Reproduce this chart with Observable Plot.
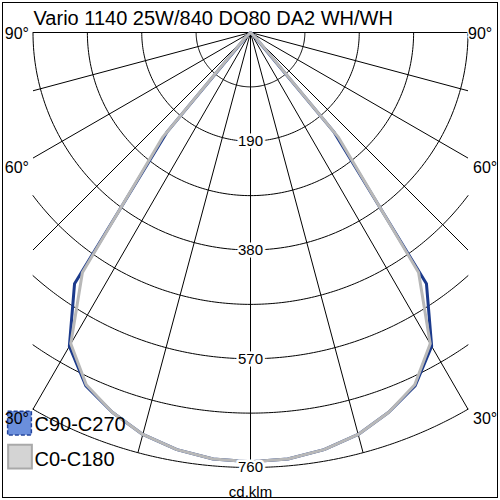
<!DOCTYPE html>
<html>
<head>
<meta charset="utf-8">
<script src="https://cdn.jsdelivr.net/npm/d3@7"></script>
<script src="https://cdn.jsdelivr.net/npm/@observablehq/plot@0.6"></script>
<style>
  html, body { margin: 0; padding: 0; background: #fff; }
  #chart svg { display: block; }
</style>
</head>
<body>
<div id="chart"></div>
<script>
// ---- data (cd/klm) ----
const title = "Vario 1140 25W/840 DO80 DA2 WH/WH";
const unitLabel = "cd.klm";
const gammaAngles = [0, 5, 10, 15, 20, 25, 30, 35, 40, 45, 50, 55, 60, 65, 70, 75, 80, 85, 90];
const seriesC90 = [750, 748, 740, 727, 706, 681, 633, 536, 226, 10, 0, 0, 0, 0, 0, 0, 0, 0, 0];
const seriesC0  = [750, 748, 740, 727, 706, 679, 628, 512, 238, 14, 0, 0, 0, 0, 0, 0, 0, 0, 0];
const legendNames = ["C90-C270", "C0-C180"];
const ringValues = [95, 190, 285, 380, 475, 570, 665, 760];
const ringLabels = [190, 380, 570, 760];
const spokeAngles = [-90, -75, -60, -45, -30, -15, 0, 15, 30, 45, 60, 75, 90];
const angleLabels = [90, 60, 30];

// ---- geometry ----
const rMax = 760;          // outer ring
const halfBox = 380;       // grid clipped at |x| <= 380 cd
const pxPerCd = 435 / 760;
const cx = 250, cy = 32;
const rad = d => d * Math.PI / 180;

function polar(name, values) {
  const pts = [];
  for (let i = gammaAngles.length - 1; i >= 0; i--) {
    const g = rad(gammaAngles[i]);
    pts.push({series: name, x: -values[i] * Math.sin(g), y: values[i] * Math.cos(g)});
  }
  for (let i = 1; i < gammaAngles.length; i++) {
    const g = rad(gammaAngles[i]);
    pts.push({series: name, x: values[i] * Math.sin(g), y: values[i] * Math.cos(g)});
  }
  return pts;
}
const curveC90 = polar(legendNames[0], seriesC90);
const curveC0 = polar(legendNames[1], seriesC0);

const rings = [];
for (const r of ringValues) {
  const gmax = r <= halfBox ? 90 : Math.asin(halfBox / r) * 180 / Math.PI;
  const n = 180;
  for (let j = 0; j <= n; j++) {
    const g = rad(-gmax + 2 * gmax * j / n);
    rings.push({r, x: r * Math.sin(g), y: r * Math.cos(g)});
  }
}
const spokes = spokeAngles.map(a => {
  const s = Math.abs(Math.sin(rad(a)));
  const L = s === 0 ? rMax : Math.min(rMax, halfBox / s);
  return {a, x2: L * Math.sin(rad(a)), y2: L * Math.cos(rad(a))};
});
const angleLabelData = [];
for (const a of angleLabels) {
  const g = rad(a);
  const y = halfBox * Math.cos(g) / Math.sin(g);
  angleLabelData.push({a, side: -1, x: -halfBox, y});
  angleLabelData.push({a, side: 1, x: halfBox, y});
}

const font = "'Liberation Sans', Arial, sans-serif";
const labelStyle = {x: "x", y: "y", text: d => d.a + "°", lineAnchor: "middle", fontSize: 16, fill: "#000"};
const halo = {stroke: "#fff", strokeWidth: 3, paintOrder: "stroke"};

const chart = Plot.plot({
  width: 500,
  height: 500,
  margin: 0,
  style: {background: "#fff", fontFamily: font},
  x: {domain: [-cx / pxPerCd, (500 - cx) / pxPerCd], axis: null},
  y: {domain: [-cy / pxPerCd, (500 - cy) / pxPerCd], range: [0, 500], axis: null},
  marks: [
    Plot.line(rings, {x: "x", y: "y", z: "r", stroke: "#000", strokeWidth: 1}),
    Plot.link(spokes, {x1: 0, y1: 0, x2: "x2", y2: "y2", stroke: "#000", strokeWidth: 1}),
    Plot.line(curveC90, {x: "x", y: "y", stroke: "#1b3a8c", strokeWidth: 3, strokeLinejoin: "round"}),
    Plot.line(curveC0, {x: "x", y: "y", stroke: "#b8b8b8", strokeWidth: 3, strokeLinejoin: "round"}),
    Plot.text(ringLabels, {x: 0, y: d => d, text: d => String(d), fontSize: 15,
      fill: "#000", stroke: "#fff", strokeWidth: 5, paintOrder: "stroke", lineAnchor: "middle"}),
    // legend swatches
    Plot.dot([legendNames[0]], {frameAnchor: "top-left", dx: 19, dy: 422.5, r: 13.4, symbol: "square",
      fill: "#6b8fdc", stroke: "#23449c", strokeWidth: 1.5, strokeDasharray: "4,2"}),
    Plot.dot([legendNames[1]], {frameAnchor: "top-left", dx: 19.5, dy: 456, r: 13.4, symbol: "square",
      fill: "#d4d4d4", stroke: "#a9a9a9", strokeWidth: 2}),
    // angle labels
    Plot.text(angleLabelData.filter(d => d.side < 0 && d.a === 90), {...labelStyle, ...halo, dx: -4, dy: 1, textAnchor: "end"}),
    Plot.text(angleLabelData.filter(d => d.side > 0 && d.a === 90), {...labelStyle, ...halo, dx: 0, dy: 1, textAnchor: "start"}),
    Plot.text(angleLabelData.filter(d => d.side < 0 && d.a === 60), {...labelStyle, ...halo, dx: -4, dy: 10, textAnchor: "end"}),
    Plot.text(angleLabelData.filter(d => d.side > 0 && d.a !== 90), {...labelStyle, ...halo, dx: 5, dy: 10, textAnchor: "start"}),
    Plot.text(angleLabelData.filter(d => d.side < 0 && d.a === 30), {...labelStyle, dx: -4, dy: 10, textAnchor: "end"}),
    // legend texts
    Plot.text([legendNames[0]], {frameAnchor: "top-left", dx: 34, dy: 430, text: d => d,
      textAnchor: "start", lineAnchor: "bottom", fontSize: 20, fill: "#000"}),
    Plot.text([legendNames[1]], {frameAnchor: "top-left", dx: 34, dy: 465, text: d => d,
      textAnchor: "start", lineAnchor: "bottom", fontSize: 20, fill: "#000"}),
    Plot.text([title], {frameAnchor: "top-left", dx: 33, dy: 24, text: d => d,
      textAnchor: "start", lineAnchor: "bottom", fontSize: 20, fill: "#000"}),
    Plot.text([unitLabel], {frameAnchor: "bottom", dy: -4, text: d => d,
      lineAnchor: "bottom", fontSize: 15, fill: "#000"}),
    Plot.frame({stroke: "#000", strokeWidth: 1, insetLeft: 2, insetTop: 2, insetRight: 3, insetBottom: 3})
  ]
});
document.getElementById("chart").append(chart);
</script>
</body>
</html>
